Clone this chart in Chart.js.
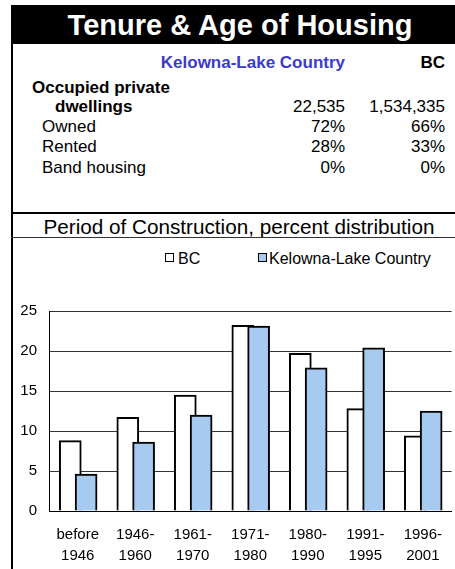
<!DOCTYPE html>
<html><head><meta charset="utf-8">
<script src="https://cdn.jsdelivr.net/npm/chart.js@4/dist/chart.umd.min.js"></script>
<style>
body{margin:0;background:#fff;font-family:"Liberation Sans",Arial,sans-serif;}
#page{position:relative;width:455px;height:569px;overflow:hidden;background:#fff;}
.a{position:absolute;white-space:nowrap;line-height:1;}
.t{font-size:17px;color:#000;}
.b{font-weight:bold;}
.r{text-align:right;}
</style></head>
<body>
<div id="page">
  <div class="a" style="left:11px;top:5px;width:444px;height:39px;background:#000;"></div>
  <div class="a b" style="left:0;top:10.5px;width:480px;text-align:center;font-size:29px;color:#fff;">Tenure &amp; Age of Housing</div>
  <div class="a" style="left:11px;top:44px;width:2px;height:525px;background:#000;"></div>

  <div class="a t b r" style="right:110px;top:54px;color:#3a3acc;">Kelowna-Lake Country</div>
  <div class="a t b r" style="right:10px;top:54px;">BC</div>
  <div class="a t b" style="left:32px;top:79px;">Occupied private</div>
  <div class="a t b" style="left:55px;top:98px;">dwellings</div>
  <div class="a t r" style="right:110px;top:98px;">22,535</div>
  <div class="a t r" style="right:10px;top:98px;">1,534,335</div>
  <div class="a t" style="left:42px;top:117.5px;">Owned</div>
  <div class="a t r" style="right:110px;top:117.5px;">72%</div>
  <div class="a t r" style="right:10px;top:117.5px;">66%</div>
  <div class="a t" style="left:42px;top:137.5px;">Rented</div>
  <div class="a t r" style="right:110px;top:137.5px;">28%</div>
  <div class="a t r" style="right:10px;top:137.5px;">33%</div>
  <div class="a t" style="left:42px;top:158.5px;">Band housing</div>
  <div class="a t r" style="right:110px;top:158.5px;">0%</div>
  <div class="a t r" style="right:10px;top:158.5px;">0%</div>

  <div class="a" style="left:11px;top:212px;width:444px;height:2px;background:#000;"></div>
  <div class="a" style="left:0;top:216.5px;width:478px;text-align:center;font-size:20.7px;color:#000;">Period of Construction, percent distribution</div>
  <div class="a" style="left:11px;top:237px;width:444px;height:1px;background:#333;"></div>

  <div class="a" style="left:165px;top:253px;width:7px;height:7px;border:1.5px solid #000;background:#fff;"></div>
  <div class="a" style="left:178px;top:250.5px;font-size:16px;">BC</div>
  <div class="a" style="left:258px;top:253px;width:7px;height:7px;border:1.5px solid #000;background:#a6caf0;"></div>
  <div class="a" style="left:269px;top:250.5px;font-size:16px;">Kelowna-Lake Country</div>

  <div class="a" style="left:13px;top:238px;width:442px;height:331px;">
    <canvas id="c" width="442" height="331"></canvas>
  </div>
</div>
<script>
const categories = ['before 1946', '1946-1960', '1961-1970', '1971-1980', '1980-1990', '1991-1995', '1996-2001'];
const tickLabels = [['before', '1946'], ['1946-', '1960'], ['1961-', '1970'], ['1971-', '1980'], ['1980-', '1990'], ['1991-', '1995'], ['1996-', '2001']];
const bcValues = [8.8, 11.7, 14.5, 23.2, 19.7, 12.8, 9.4];
const kelownaValues = [4.6, 8.6, 12.0, 23.1, 17.9, 20.4, 12.5];
const yTicks = [0, 5, 10, 15, 20, 25];
const seriesNames = ['BC', 'Kelowna-Lake Country'];

// horizontal shift of each overlapping series inside its category (style)
const shiftBC = -0.13, shiftK = 0.145;

Chart.defaults.font.family = '"Liberation Sans", Arial, sans-serif';
Chart.defaults.color = '#000';

new Chart(document.getElementById('c'), {
  type: 'bar',
  data: {
    datasets: [
      { label: seriesNames[0], order: 1, data: bcValues.map((v, i) => ({ x: i + shiftBC, y: v })),
        backgroundColor: '#ffffff', borderColor: '#000', borderWidth: 2, barThickness: 22 },
      { label: seriesNames[1], order: 0, data: kelownaValues.map((v, i) => ({ x: i + shiftK, y: v })),
        backgroundColor: '#a6caf0', borderColor: '#000', borderWidth: 2, barThickness: 22 }
    ]
  },
  options: {
    responsive: false,
    devicePixelRatio: 1,
    animation: false,
    grouped: false,
    layout: { padding: { top: 73, left: 0, right: 0, bottom: 0 } },
    plugins: { legend: { display: false }, tooltip: { enabled: false } },
    scales: {
      x: {
        type: 'linear', offset: false, min: -0.5, max: categories.length - 0.5,
        afterBuildTicks: s => { s.ticks = categories.map((c, i) => ({ value: i })); },
        afterFit: s => { s.height = 58; },
        grid: { display: false, drawTicks: false },
        border: { display: true, color: '#000', width: 1 },
        ticks: { autoSkip: false, maxRotation: 0, padding: 13,
          font: { size: 15, lineHeight: '21.5px' },
          callback: (v) => tickLabels[Math.round(v)] }
      },
      y: {
        min: yTicks[0], max: yTicks[yTicks.length - 1],
        afterBuildTicks: s => { s.ticks = yTicks.map(v => ({ value: v })); },
        afterFit: s => { s.width = 36; },
        grid: { color: '#333', lineWidth: 1, drawTicks: false },
        border: { display: true, color: '#000', width: 1 },
        ticks: { padding: 12, font: { size: 15 } }
      }
    }
  }
});
</script>
</body></html>
